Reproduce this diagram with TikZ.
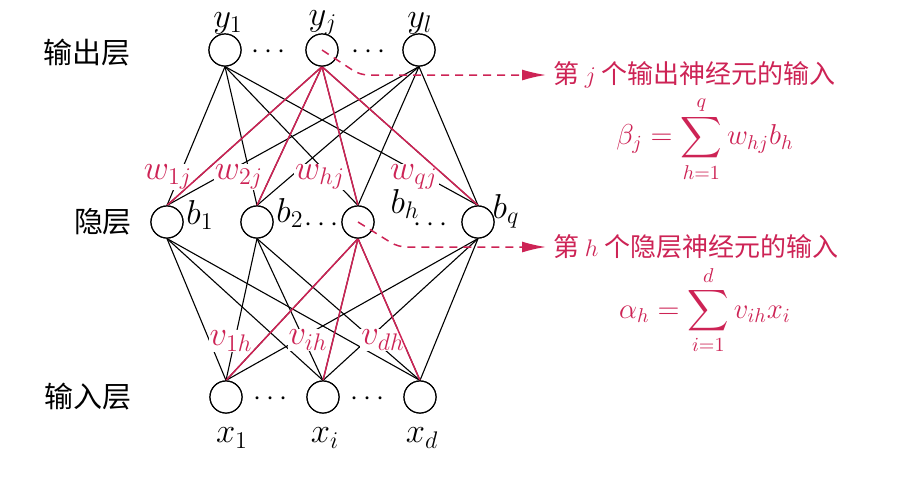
\documentclass[tikz,border=0pt]{standalone}
\usepackage{amsmath}
\usepackage{fontspec}
\newfontfamily\cjk{Noto Sans CJK SC}
\usepackage{tikz}
\usetikzlibrary{calc,positioning,arrows.meta}
\definecolor{wred}{RGB}{205,35,85}

\begin{document}
\begin{tikzpicture}[
    x=0.5pt, y=-0.5pt,
    every node/.style={font=\fontsize{17.5}{20}\selectfont},
    neuron/.style={circle, draw=black, line width=0.6pt, fill=white,
        minimum size=16pt, inner sep=0pt},
    lyr/.style={font=\fontsize{14.5}{17}\selectfont\cjk},
    wt/.style={text=wred, fill=white, inner sep=0.5pt},
    note/.style={text=wred, anchor=west, font=\fontsize{13}{16}\selectfont\cjk},
    fml/.style={text=wred, font=\fontsize{14.5}{17}\selectfont},
    dt/.style={font=\fontsize{15}{17}\selectfont, inner sep=0pt},
    te/.style={draw=black, line width=0.55pt},
    re/.style={draw=wred, line width=0.75pt},
    dsh/.style={draw=wred, line width=0.75pt, dashed, dash pattern=on 4pt off 3pt,
        rounded corners=4pt, -{Latex[length=12pt,width=5.5pt]}},
]
    \useasboundingbox (0,0) rectangle (922,478);

    % Output layer
    \node[neuron] (y1) at (225,50) {};
    \node[neuron] (yj) at (322,50) {};
    \node[neuron] (yl) at (419,50) {};

    % Hidden layer
    \node[neuron] (b1) at (167,222) {};
    \node[neuron] (b2) at (257,222) {};
    \node[neuron] (bh) at (358,222) {};
    \node[neuron] (bq) at (478,222) {};

    % Input layer
    \node[neuron] (x1) at (226,397) {};
    \node[neuron] (xi) at (323,397) {};
    \node[neuron] (xd) at (420,397) {};

    % Edges
    \foreach \a in {y1,yj,yl}
        \foreach \b in {b1,b2,bh,bq}
            \draw[te] (\a.south) -- (\b.north);
    \foreach \a in {b1,b2,bh,bq}
        \foreach \b in {x1,xi,xd}
            \draw[te] (\a.south) -- (\b.north);

    % Weights
    \node[wt] (w1) at (168,177) {$w_{1j}$};
    \node[wt] (w2) at (239,177) {$w_{2j}$};
    \node[wt] (wh) at (320,177) {$w_{hj}$};
    \node[wt] (wq) at (414,177) {$w_{qj}$};
    \node[wt] (v1) at (231,341) {$v_{1h}$};
    \node[wt] (vi) at (308,340) {$v_{ih}$};
    \node[wt] (vd) at (383,340) {$v_{dh}$};

    % Highlighted edges
    \foreach \b in {b1,b2,bh,bq}
        \draw[re] (yj.south) -- (\b.north);
    \foreach \b in {x1,xi,xd}
        \draw[re] (bh.south) -- (\b.north);

    % Redraw circles on top
    \foreach \n in {y1,yj,yl,b1,b2,bh,bq,x1,xi,xd}
        \draw[line width=0.6pt, fill=white] (\n) circle (8pt);

    % Names
    \node (ly1) at (228,23) {$y_1$};
    \node (lyj) at (323,23) {$y_j$};
    \node (lyl) at (420,23) {$y_l$};
    \node (lb1) at (200,215) {$b_1$};
    \node (lb2) at (290,213) {$b_2$};
    \node (lbh) at (405,204) {$b_h$};
    \node (lbq) at (506,211) {$b_q$};
    \node (lx1) at (232,438) {$x_1$};
    \node (lxi) at (325,438) {$x_i$};
    \node (lxd) at (422,438) {$x_d$};

    % Dots
    \node[dt] (d1) at (271,52) {$\cdots$};
    \node[dt] (d2) at (371,52) {$\cdots$};
    \node[dt] (d3) at (324,225) {$\cdots$};
    \node[dt] (d4) at (433,225) {$\cdots$};
    \node[dt] (d5) at (273,399) {$\cdots$};
    \node[dt] (d6) at (370,399) {$\cdots$};

    % Layer names
    \node[lyr] (lout) at (87,53)  {输出层};
    \node[lyr] (lhid) at (103,222) {隐层};
    \node[lyr] (lin)  at (88,397) {输入层};

    % Notes
    \node[note] (nj) at (546,75)  {第 $j$ 个输出神经元的输入};
    \node[note] (nh) at (546,247) {第 $h$ 个隐层神经元的输入};
    \draw[dsh] (yj.center) -- (360,75) -- (nj.west);
    \draw[dsh] (bh.center) -- (398,247) -- (nh.west);

    % Formulas
    \node[fml] (fb) at (705,139) {$\displaystyle \beta_j = \sum_{h=1}^{q} w_{hj} b_h$};
    \node[fml] (fa) at (705,310) {$\displaystyle \alpha_h = \sum_{i=1}^{d} v_{ih} x_i$};
\end{tikzpicture}
\end{document}
